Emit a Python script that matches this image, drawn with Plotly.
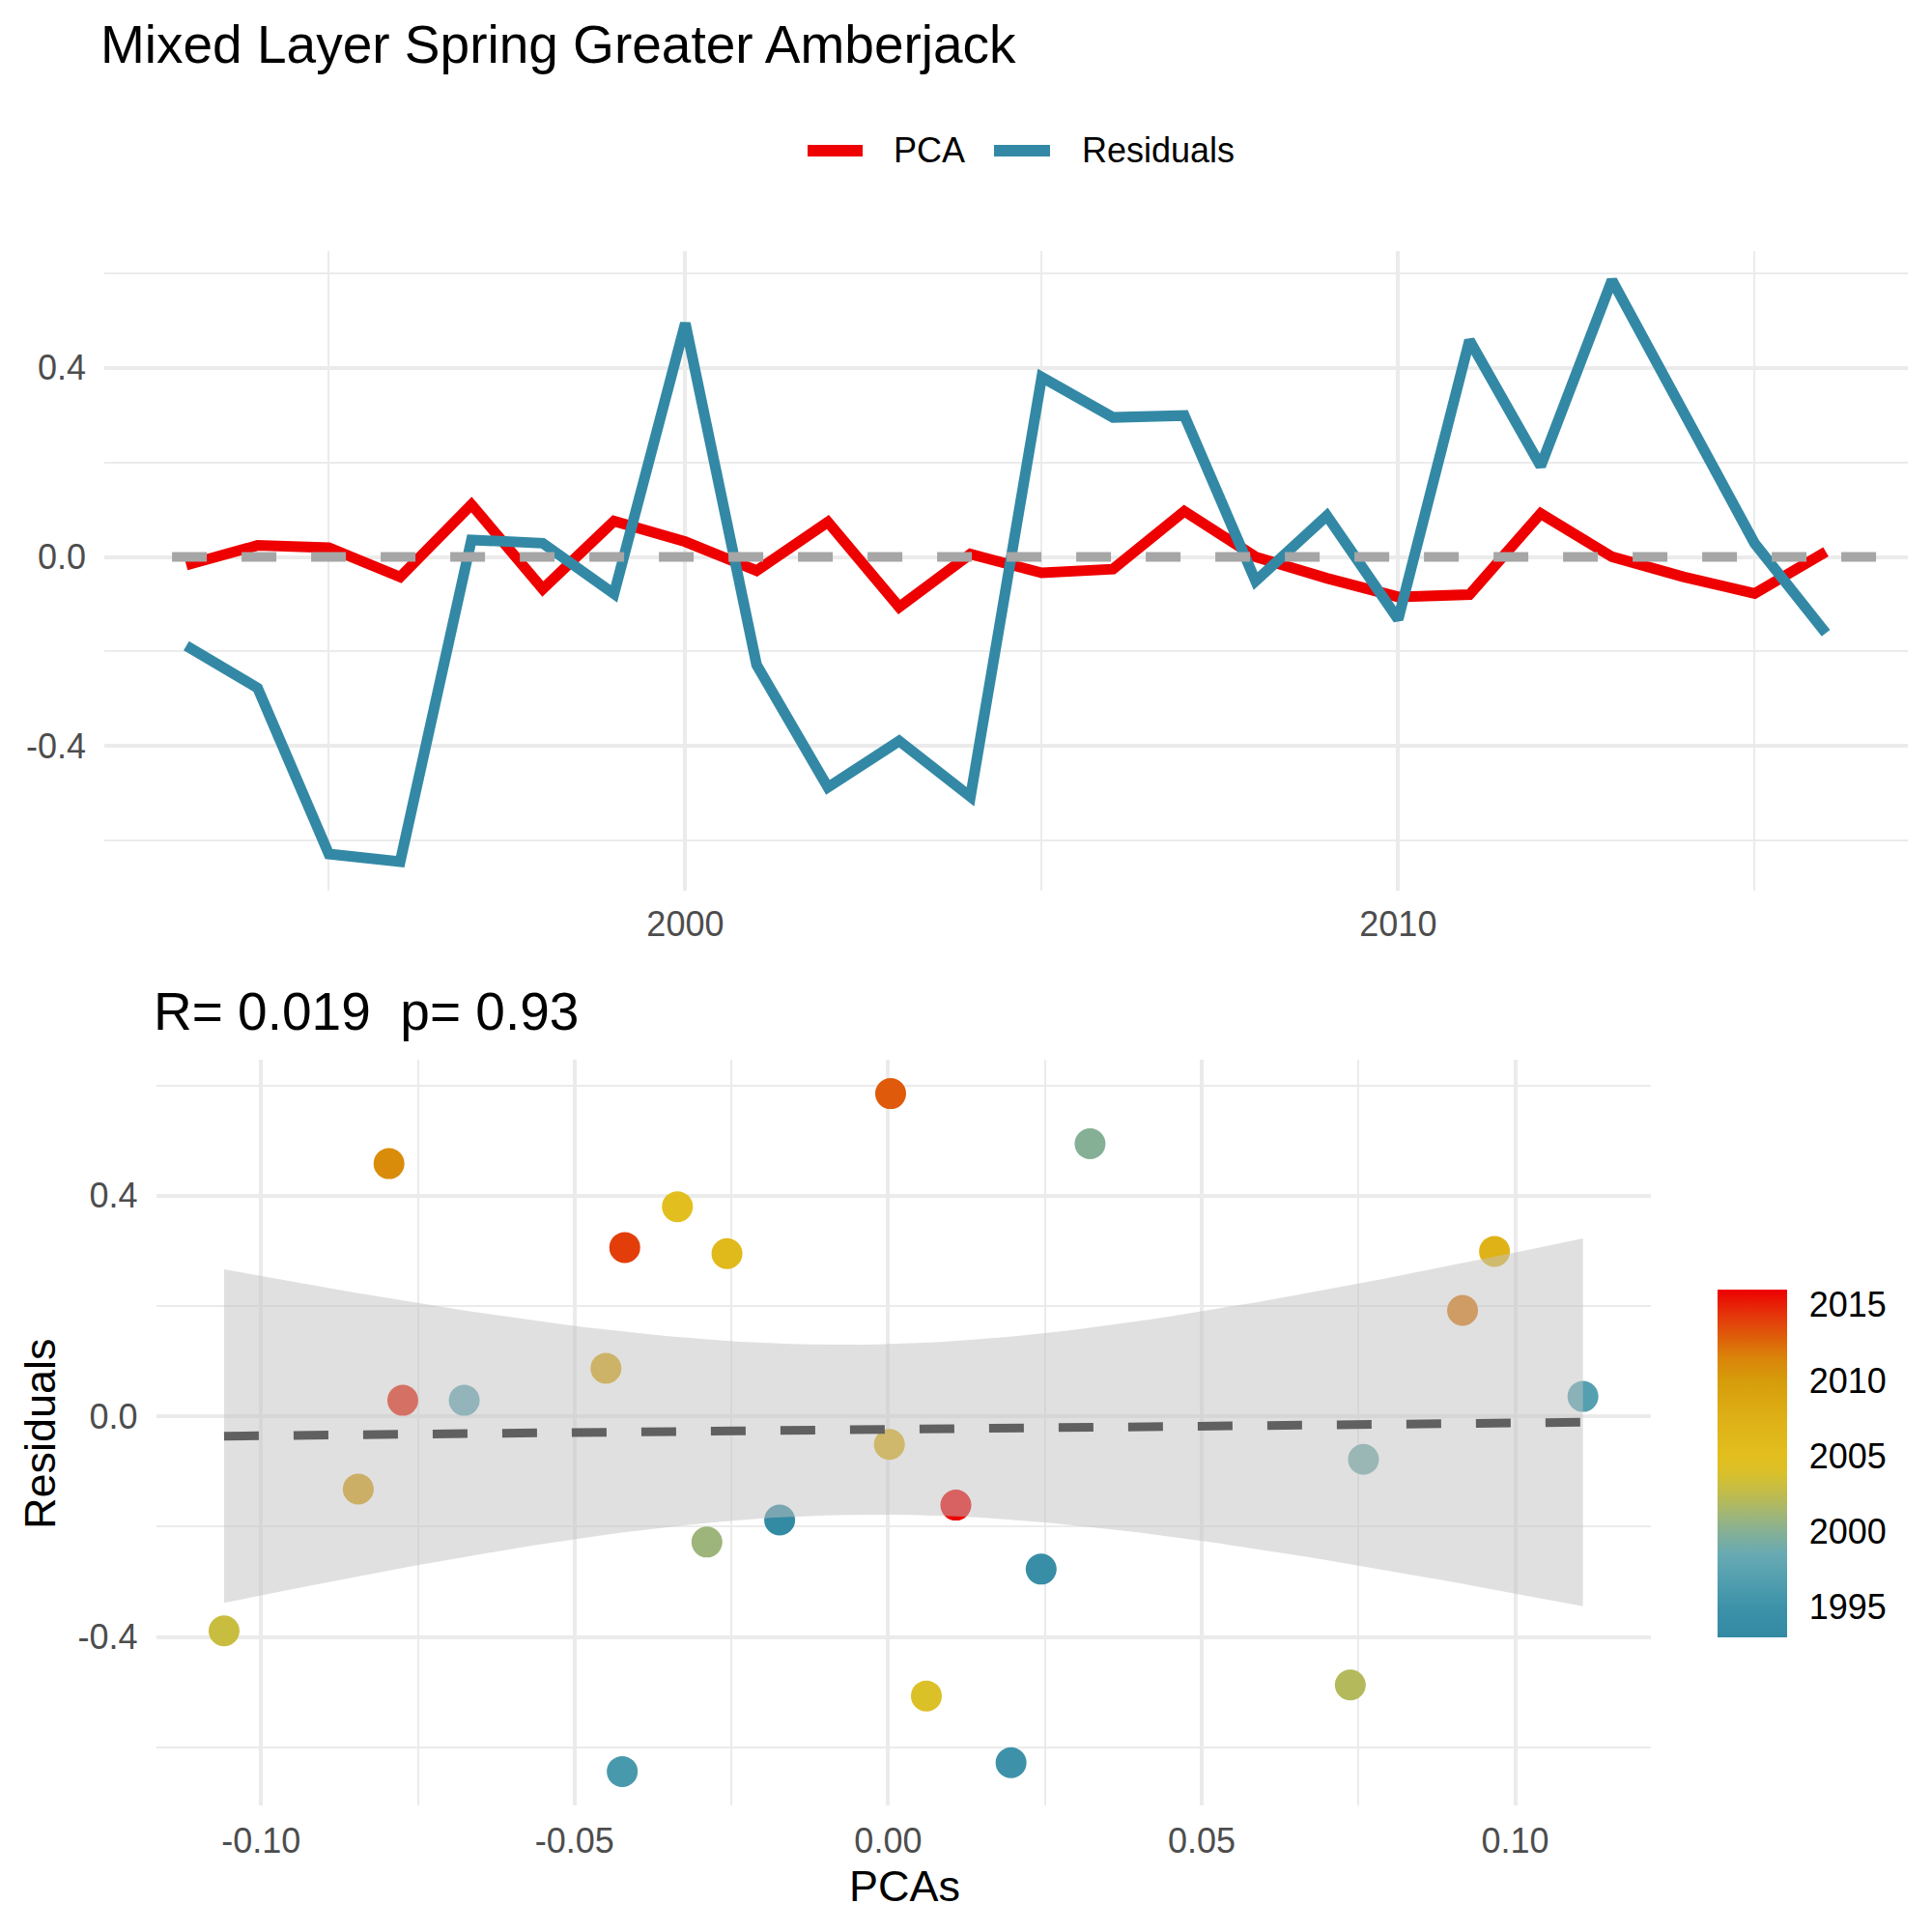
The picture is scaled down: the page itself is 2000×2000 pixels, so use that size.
import numpy as np
import plotly.graph_objects as go

# data
years = list(range(1993, 2017))
pca = [-0.0173, 0.0244, 0.0196, -0.0424, 0.1108, -0.0676, 0.0758, 0.0322,
       -0.0289, 0.0737, -0.1059, 0.0061, -0.0336, -0.0257, 0.0967, 0.0002,
       -0.0450, -0.0845, -0.0796, 0.0916, 0.0004, -0.0420, -0.0774, 0.0108]
resid = [-0.188, -0.277, -0.628, -0.644, 0.036, 0.029, -0.078, 0.494,
         -0.228, -0.487, -0.389, -0.507, 0.380, 0.295, 0.299, -0.051,
         0.087, -0.132, 0.458, 0.192, 0.585, 0.306, 0.029, -0.161]

# ticks
year_ticks = [2000, 2010]
year_minor = [1995, 2005, 2015]
res_ticks = [-0.4, 0.0, 0.4]
res_ticktext = ["-0.4", "0.0", "0.4"]
res_minor = [-0.6, -0.2, 0.2, 0.6]
pca_ticks = [-0.10, -0.05, 0.0, 0.05, 0.10]
pca_ticktext = ["-0.10", "-0.05", "0.00", "0.05", "0.10"]
pca_minor = [-0.075, -0.025, 0.025, 0.075]
cbar_ticks = [1995, 2000, 2005, 2010, 2015]

# colour ramp of the year scale
ramp_years = [1993, 1995, 1997, 1998.5, 2000, 2001, 2002.5, 2004, 2005,
              2007.5, 2010, 2011.5, 2013, 2014.5, 2016]
ramp_cols = ["#338AA3", "#3D92A9", "#55A0B0", "#68AAB3", "#86B095", "#9DB57A",
             "#C0BC4C", "#DCC028", "#E2BF1E", "#DEB017", "#D69C0A", "#DA840A",
             "#DF5A0A", "#E5300A", "#EE0000"]

RED = "#EE0000"
BLUE = "#3389A5"
FONT = "Liberation Sans, Arial, sans-serif"
GRID = "#EBEBEB"


def expand(vals, f=0.05):
    lo, hi = min(vals), max(vals)
    d = (hi - lo) * f
    return [lo - d, hi + d]


cscale = [[(yv - ramp_years[0]) / (ramp_years[-1] - ramp_years[0]), c]
          for yv, c in zip(ramp_years, ramp_cols)]

# linear fit + 95% confidence band (like geom_smooth(method="lm"))
x = np.array(pca)
y = np.array(resid)
n = len(x)
slope, intercept = np.polyfit(x, y, 1)
xs = np.linspace(x.min(), x.max(), 80)
fit = intercept + slope * xs
s = np.sqrt(np.sum((y - (intercept + slope * x)) ** 2) / (n - 2))
se = s * np.sqrt(1 / n + (xs - x.mean()) ** 2 / np.sum((x - x.mean()) ** 2))
t975 = 2.0739  # t quantile, 22 df
lo = fit - t975 * se
hi = fit + t975 * se

fig = go.Figure()

# top panel: time series
fig.add_trace(go.Scatter(x=years, y=pca, mode="lines", name="PCA",
                         line=dict(color=RED, width=11), showlegend=False,
                         xaxis="x", yaxis="y"))
fig.add_trace(go.Scatter(x=years, y=resid, mode="lines", name="Residuals",
                         line=dict(color=BLUE, width=11), showlegend=False,
                         xaxis="x", yaxis="y"))

# bottom panel: scatter, band, fit
fig.add_trace(go.Scatter(
    x=pca, y=resid, mode="markers", showlegend=False, xaxis="x2", yaxis="y2",
    marker=dict(size=32, color=years, colorscale=cscale, cmin=years[0], cmax=years[-1],
                line=dict(width=0), showscale=True,
                colorbar=dict(x=0.889, xanchor="left", y=0.2425, yanchor="middle",
                              len=360, lenmode="pixels", thickness=72,
                              thicknessmode="pixels", xpad=0, ypad=0,
                              outlinewidth=0, tickvals=cbar_ticks,
                              ticks="outside", ticklen=16, tickcolor="white",
                              tickfont=dict(size=36, color="black", family=FONT)))))
fig.add_trace(go.Scatter(x=np.concatenate([xs, xs[::-1]]),
                         y=np.concatenate([hi, lo[::-1]]),
                         fill="toself", fillcolor="rgba(193,193,193,0.5)",
                         mode="lines", line=dict(width=0), hoverinfo="skip",
                         showlegend=False, xaxis="x2", yaxis="y2"))
fig.add_trace(go.Scatter(x=xs, y=fit, mode="lines", showlegend=False,
                         line=dict(color="#606060", width=9, dash="36px,36px"),
                         xaxis="x2", yaxis="y2"))

x_range = expand(years)
y_range = expand(pca + resid)

axis_common = dict(showline=False, zeroline=False, ticks="", gridcolor=GRID,
                   gridwidth=4, automargin=False,
                   tickfont=dict(size=36, color="#4D4D4D", family=FONT))

fig.update_layout(
    width=2000, height=2000, autosize=False,
    margin=dict(l=0, r=0, t=0, b=0),
    paper_bgcolor="white", plot_bgcolor="white",
    font=dict(family=FONT, color="black"),
    xaxis=dict(domain=[0.054, 0.9875], anchor="y", range=x_range,
               tickmode="array", tickvals=year_ticks, ticklabelstandoff=10,
               minor=dict(tickmode="array", tickvals=year_minor, showgrid=True,
                          gridcolor=GRID, gridwidth=2.3, ticks=""),
               **axis_common),
    yaxis=dict(domain=[0.539, 0.870], anchor="x", range=y_range,
               tickmode="array", tickvals=res_ticks, ticktext=res_ticktext,
               ticklabelstandoff=18,
               minor=dict(tickmode="array", tickvals=res_minor, showgrid=True,
                          gridcolor=GRID, gridwidth=2.3, ticks=""),
               **axis_common),
    xaxis2=dict(domain=[0.0808, 0.8545], anchor="y2", range=expand(pca),
                tickmode="array", tickvals=pca_ticks, ticktext=pca_ticktext,
                ticklabelstandoff=12,
                minor=dict(tickmode="array", tickvals=pca_minor, showgrid=True,
                           gridcolor=GRID, gridwidth=2.3, ticks=""),
                **axis_common),
    yaxis2=dict(domain=[0.0655, 0.4515], anchor="x2", range=y_range,
                tickmode="array", tickvals=res_ticks, ticktext=res_ticktext,
                ticklabelstandoff=18,
                minor=dict(tickmode="array", tickvals=res_minor, showgrid=True,
                           gridcolor=GRID, gridwidth=2.3, ticks=""),
                **axis_common),
)

# dashed zero line in the top panel
fig.add_shape(type="line", xref="x", yref="y", x0=years[0] - 0.2, x1=x_range[1], y0=0, y1=0,
              line=dict(color="#A6A6A6", width=10, dash="36px,36px"), layer="above")

# legend drawn by hand so the keys get ggplot-like length
for name, col, x0, x1, xt in [("PCA", RED, 0.418, 0.4465, 0.4615),
                              ("Residuals", BLUE, 0.5145, 0.5435, 0.559)]:
    fig.add_shape(type="line", xref="paper", yref="paper", x0=x0, x1=x1,
                  y0=0.922, y1=0.922, line=dict(color=col, width=12))
    fig.add_annotation(text=name, xref="paper", yref="paper", x=xt, y=0.922,
                       xanchor="left", yanchor="middle", showarrow=False,
                       font=dict(size=36, color="black", family=FONT))

# titles
fig.add_annotation(text="Mixed Layer Spring Greater Amberjack", xref="paper", yref="paper",
                   x=0.051, y=0.977, xanchor="left", yanchor="middle", showarrow=False,
                   font=dict(size=55, color="black", family=FONT))
fig.add_annotation(text="R= 0.019  p= 0.93", xref="paper", yref="paper",
                   x=0.0785, y=0.4765, xanchor="left", yanchor="middle", showarrow=False,
                   font=dict(size=55, color="black", family=FONT))
fig.add_annotation(text="Residuals", xref="paper", yref="paper", x=0.0205, y=0.258,
                   xanchor="center", yanchor="middle", textangle=-90, showarrow=False,
                   font=dict(size=45, color="black", family=FONT))
fig.add_annotation(text="PCAs", xref="paper", yref="paper", x=0.468, y=0.024,
                   xanchor="center", yanchor="middle", showarrow=False,
                   font=dict(size=45, color="black", family=FONT))

fig.write_html("out.html", config={"displayModeBar": False},
               post_script="document.body.style.margin='0';")
